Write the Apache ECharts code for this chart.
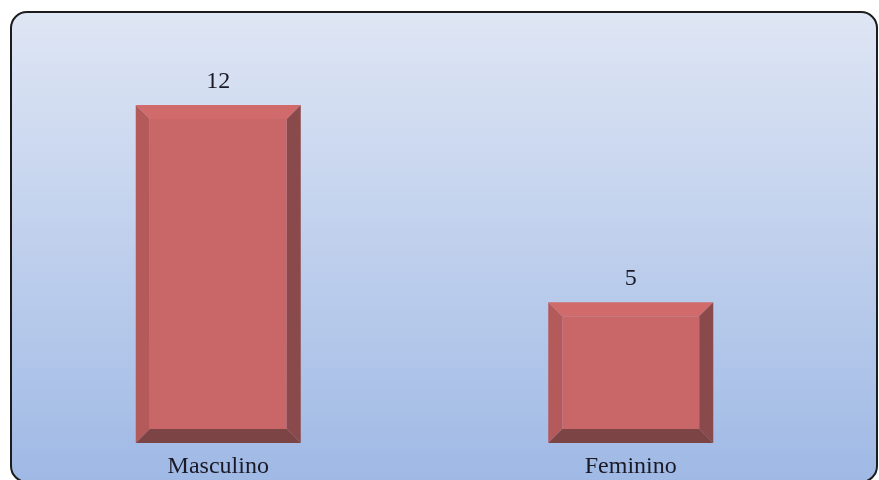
<!DOCTYPE html>
<html>
<head>
<meta charset="utf-8">
<script src="https://cdn.jsdelivr.net/npm/echarts@6/dist/echarts.min.js"></script>
<style>
html,body{margin:0;padding:0;background:#ffffff;}
#chart{width:879px;height:480px;}
</style>
</head>
<body>
<div id="chart"></div>
<script>
var categories = ['Masculino', 'Feminino'];
var values = [12, 5];

var chart = echarts.init(document.getElementById('chart'), null, {renderer: 'canvas'});

var BEVEL = 14;
function renderItem(params, api) {
  var idx = api.value(0);
  var val = api.value(1);
  var top = api.coord([idx, val]);
  var base = api.coord([idx, 0]);
  var w = api.size([1, 0])[0] * 0.4;
  var x0 = top[0] - w / 2, x1 = top[0] + w / 2;
  var y0 = top[1], y1 = base[1];
  var b = BEVEL;
  return {
    type: 'group',
    children: [
      {type: 'rect', shape: {x: x0 + b, y: y0 + b, width: (x1 - x0) - 2 * b, height: (y1 - y0) - 2 * b}, style: {fill: '#c96667'}},
      {type: 'polygon', shape: {points: [[x0, y0], [x1, y0], [x1 - b, y0 + b], [x0 + b, y0 + b]]}, style: {fill: '#d06a6b'}},
      {type: 'polygon', shape: {points: [[x0, y0], [x0 + b, y0 + b], [x0 + b, y1 - b], [x0, y1]]}, style: {fill: '#b45a5b'}},
      {type: 'polygon', shape: {points: [[x1, y0], [x1, y1], [x1 - b, y1 - b], [x1 - b, y0 + b]]}, style: {fill: '#8a4a4b'}},
      {type: 'polygon', shape: {points: [[x0, y1], [x1, y1], [x1 - b, y1 - b], [x0 + b, y1 - b]]}, style: {fill: '#7d4445'}},
      {type: 'text', style: {text: String(val), x: top[0], y: y0 - 11, textAlign: 'center', textVerticalAlign: 'bottom',
        font: '24px "Liberation Serif", "Times New Roman", serif', fill: '#1a1a26'}}
    ]
  };
}

chart.setOption({
  animation: false,
  backgroundColor: '#ffffff',
  graphic: [{
    type: 'rect',
    z: -10,
    silent: true,
    shape: {x: 11, y: 12, width: 866, height: 470, r: 16},
    style: {
      fill: new echarts.graphic.LinearGradient(0, 0, 0, 1, [
        {offset: 0, color: '#dfe6f4'},
        {offset: 1, color: '#9fb9e5'}
      ]),
      stroke: '#1c1c1c',
      lineWidth: 2
    }
  }],
  grid: {left: 12, right: 42, top: 105, bottom: 37, containLabel: false},
  xAxis: {
    type: 'category',
    data: categories,
    axisLine: {show: false},
    axisTick: {show: false},
    axisLabel: {
      margin: 12,
      fontFamily: '"Liberation Serif", "Times New Roman", serif',
      fontSize: 24,
      color: '#1a1a26'
    }
  },
  yAxis: {
    type: 'value',
    min: 0,
    max: 12,
    show: false,
    splitLine: {show: false}
  },
  series: [{
    type: 'custom',
    renderItem: renderItem,
    data: values.map(function (v, i) { return [i, v]; }),
    encode: {x: 0, y: 1},
    clip: false
  }]
});
</script>
</body>
</html>
